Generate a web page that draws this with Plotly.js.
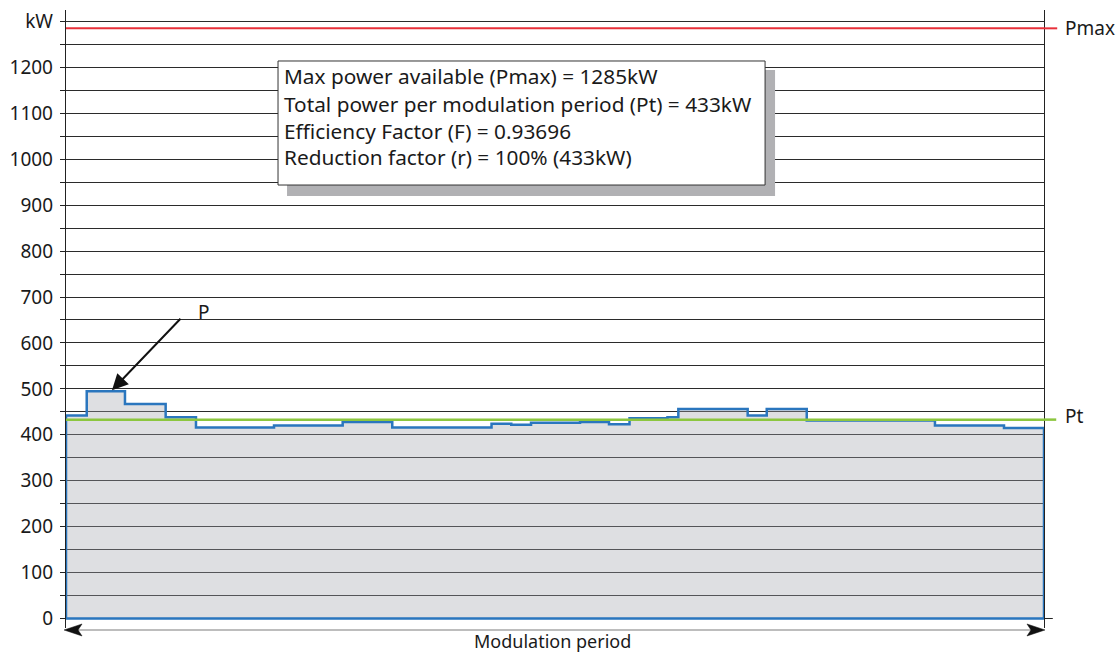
<!DOCTYPE html>
<html>
<head>
<meta charset="utf-8">
<script src="https://cdn.plot.ly/plotly-3.0.1.min.js"></script>
<style>
  html, body { margin: 0; padding: 0; background: #ffffff; }
  #chart { width: 1116px; height: 653px; }
</style>
</head>
<body>
<div id="chart"></div>
<script>
// Step boundaries across one modulation period (percent of the period)
const stepStart = [0, 2.12, 6.03, 10.19, 13.29, 21.27, 28.29, 33.36, 43.51, 45.53, 47.55,
                   52.56, 55.52, 57.62, 61.50, 62.61, 69.70, 71.65, 75.74, 88.85, 95.91];
const periodEnd = 100;
// Instantaneous power demand for each step (kW)
const stepPower = [442, 495, 467, 438, 416, 420, 428, 416, 424, 422, 426,
                   428, 423, 436, 438, 456, 442, 456, 431, 420, 415];
const pMax = 1285;        // max power available (kW)
const pTotal = 433;       // total power per modulation period (kW)
const peakPower = 495;    // P, peak step
const efficiency = '0.93696';
const reduction = '100%';

const tickValues = [0, 50, 100, 150, 200, 250, 300, 350, 400, 450, 500, 550, 600, 650,
                    700, 750, 800, 850, 900, 950, 1000, 1050, 1100, 1150, 1200, 1250, 1300];
const tickLabels = tickValues.map(v => v === 1300 ? 'kW' : (v % 100 === 0 ? String(v) : ''));

// Closed outline: along the steps, down the right edge, back along zero
const px = [0], py = [0];
for (let i = 0; i < stepPower.length; i++) {
  const x0 = stepStart[i];
  const x1 = i + 1 < stepStart.length ? stepStart[i + 1] : periodEnd;
  px.push(x0, x1);
  py.push(stepPower[i], stepPower[i]);
}
px.push(periodEnd, 0);
py.push(0, 0);

const FONT = 'Noto Sans, Open Sans, sans-serif';
const TEXT = '#1a1a1a';

const traces = [{
  type: 'scatter',
  mode: 'lines',
  x: px,
  y: py,
  fill: 'toself',
  fillcolor: 'rgba(160,163,172,0.35)',
  line: { color: '#2a76be', width: 2.5 },
  hoverinfo: 'skip',
  showlegend: false
}];

const shapes = [
  // Pmax and Pt reference lines, running past the right edge
  { type: 'line', xref: 'x', yref: 'y', x0: 0, x1: periodEnd, y0: pMax, y1: pMax,
    line: { color: '#e8303a', width: 2 } },
  { type: 'line', xref: 'paper', yref: 'y', x0: 1, x1: 1.0135, y0: pMax, y1: pMax,
    line: { color: '#e8303a', width: 2 } },
  { type: 'line', xref: 'x', yref: 'y', x0: 0, x1: periodEnd, y0: pTotal, y1: pTotal,
    line: { color: '#8cc63f', width: 2.5 } },
  { type: 'line', xref: 'paper', yref: 'y', x0: 1, x1: 1.0125, y0: pTotal, y1: pTotal,
    line: { color: '#8cc63f', width: 2.5 } },
  // small tick at zero on the right edge
  { type: 'line', xref: 'paper', yref: 'y', x0: 1, x1: 1.009, y0: 0, y1: 0,
    line: { color: '#222', width: 1 } },
  // info box with drop shadow
  { type: 'rect', xref: 'paper', yref: 'paper', layer: 'above',
    x0: 0.226, x1: 0.725, y0: 0.699, y1: 0.903,
    fillcolor: '#b1b1b4', line: { width: 0 } },
  { type: 'rect', xref: 'paper', yref: 'paper', layer: 'above',
    x0: 0.2168, x1: 0.7148, y0: 0.7168, y1: 0.9175,
    fillcolor: '#ffffff', line: { color: '#333', width: 1 } },
  // modulation period double arrow
  { type: 'line', xref: 'paper', yref: 'paper', x0: 0.004, x1: 0.996, y0: -0.0032, y1: -0.0032,
    line: { color: '#bdbdbd', width: 2 } },
  { type: 'path', xref: 'paper', yref: 'paper',
    path: 'M -0.002 -0.0032 L 0.0164 0.0065 L 0.0123 -0.0032 L 0.0164 -0.0129 Z',
    fillcolor: '#111', line: { color: '#111', width: 0.5 } },
  { type: 'path', xref: 'paper', yref: 'paper',
    path: 'M 1.001 -0.0032 L 0.9826 0.0065 L 0.9867 -0.0032 L 0.9826 -0.0129 Z',
    fillcolor: '#111', line: { color: '#111', width: 0.5 } }
];

const infoLines = [
  'Max power available (Pmax) = ' + pMax + 'kW',
  'Total power per modulation period (Pt) = ' + pTotal + 'kW',
  'Efficiency Factor (F) = ' + efficiency,
  'Reduction factor (r) = ' + reduction + ' (' + pTotal + 'kW)'
];
const infoY = [0.893, 0.848, 0.804, 0.762];

const annotations = infoLines.map((t, i) => ({
  xref: 'paper', yref: 'paper', x: 0.2205, y: infoY[i],
  xanchor: 'left', yanchor: 'middle', showarrow: false,
  text: t, font: { family: FONT, size: 20.8, color: TEXT }
}));

annotations.push(
  { xref: 'paper', yref: 'y', x: 1.0194, y: pMax, xanchor: 'left', yanchor: 'middle',
    showarrow: false, text: 'Pmax', font: { family: FONT, size: 19, color: TEXT } },
  { xref: 'paper', yref: 'y', x: 1.0194, y: pTotal + 8, xanchor: 'left', yanchor: 'middle',
    showarrow: false, text: 'Pt', font: { family: FONT, size: 19, color: TEXT } },
  // arrow pointing at the peak step P
  { xref: 'x', yref: 'y', x: 4.7, y: peakPower + 2, ax: 70, ay: -73,
    text: ' ', font: { size: 1 }, showarrow: true,
    arrowhead: 2, arrowsize: 1.6, arrowwidth: 2, arrowcolor: '#111' },
  { xref: 'x', yref: 'y', x: 14.1, y: 668, xanchor: 'center', yanchor: 'middle',
    showarrow: false, text: 'P', font: { family: FONT, size: 19, color: TEXT } },
  { xref: 'paper', yref: 'paper', x: 0.497, y: -0.021, xanchor: 'center', yanchor: 'middle',
    showarrow: false, text: 'Modulation period',
    font: { family: FONT, size: 18, color: TEXT } }
);

const layout = {
  width: 1116,
  height: 653,
  margin: { l: 66, r: 72, t: 10, b: 25, pad: 0 },
  paper_bgcolor: '#ffffff',
  plot_bgcolor: '#ffffff',
  showlegend: false,
  font: { family: FONT, color: TEXT },
  xaxis: {
    range: [0, periodEnd],
    showgrid: false, zeroline: false, showticklabels: false, ticks: '',
    showline: false, fixedrange: true
  },
  yaxis: {
    range: [-20.7, 1324.9],
    tickmode: 'array',
    tickvals: tickValues,
    ticktext: tickLabels,
    ticks: 'outside', ticklen: 5, tickcolor: '#222', tickwidth: 1,
    ticklabelstandoff: 3,
    showgrid: true, gridcolor: '#2b2b2b', gridwidth: 1,
    zeroline: false,
    showline: true, linecolor: '#222', linewidth: 1.2, mirror: true,
    tickfont: { family: FONT, size: 19, color: TEXT },
    fixedrange: true
  },
  shapes: shapes,
  annotations: annotations
};

Plotly.newPlot('chart', traces, layout, { displayModeBar: false, staticPlot: true });
</script>
</body>
</html>
